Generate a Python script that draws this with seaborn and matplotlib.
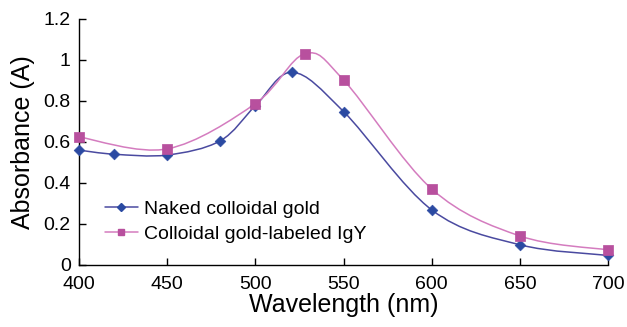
import numpy as np
import pandas as pd
import matplotlib
matplotlib.use('Agg')
import matplotlib.pyplot as plt
from matplotlib.path import Path
from matplotlib.patches import PathPatch
from matplotlib.lines import Line2D
import seaborn as sns

# Spectra
naked_nm = [400, 420, 450, 480, 500, 521, 550, 600, 650, 700]
naked_abs = [0.56, 0.54, 0.536, 0.605, 0.776, 0.94, 0.748, 0.268, 0.098, 0.046]
igy_nm = [400, 450, 500, 528, 550, 600, 650, 700]
igy_abs = [0.624, 0.566, 0.787, 1.03, 0.902, 0.37, 0.141, 0.073]

naked_color = '#2b4aa2'
naked_line = '#4a4aa0'
igy_color = '#b8509e'
igy_line = '#d47cbf'

sns.set_style('white', {'xtick.bottom': True, 'ytick.left': True,
                        'text.color': 'black', 'axes.labelcolor': 'black',
                        'xtick.color': 'black', 'ytick.color': 'black'})
plt.rcParams['font.family'] = ['Liberation Sans', 'DejaVu Sans']


def smooth_path(x, y):
    # Excel style smoothed line: cubic Bezier segments through the points
    x = np.asarray(x, float)
    y = np.asarray(y, float)
    verts = [(x[0], y[0])]
    codes = [Path.MOVETO]
    n = len(x)
    for i in range(n - 1):
        p0 = np.array([x[max(i - 1, 0)], y[max(i - 1, 0)]])
        p1 = np.array([x[i], y[i]])
        p2 = np.array([x[i + 1], y[i + 1]])
        p3 = np.array([x[min(i + 2, n - 1)], y[min(i + 2, n - 1)]])
        c1 = p1 + (p2 - p0) / 6
        c2 = p2 - (p3 - p1) / 6
        verts += [tuple(c1), tuple(c2), tuple(p2)]
        codes += [Path.CURVE4] * 3
    return Path(verts, codes)


fig, ax = plt.subplots(figsize=(6.27, 3.27), dpi=100)
fig.subplots_adjust(left=0.126, right=0.970, bottom=0.19, top=0.942)

ax.add_patch(PathPatch(smooth_path(naked_nm, naked_abs), fill=False,
                       edgecolor=naked_line, lw=1.1))
ax.add_patch(PathPatch(smooth_path(igy_nm, igy_abs), fill=False,
                       edgecolor=igy_line, lw=1.1))

naked = pd.DataFrame({'nm': naked_nm, 'abs': naked_abs})
igy = pd.DataFrame({'nm': igy_nm, 'abs': igy_abs})
sns.scatterplot(data=naked, x='nm', y='abs', marker='D', s=30,
                color=naked_color, edgecolor=naked_color, ax=ax, zorder=3,
                clip_on=False)
sns.scatterplot(data=igy, x='nm', y='abs', marker='s', s=42,
                color=igy_color, edgecolor=igy_color, ax=ax, zorder=3,
                clip_on=False)

ax.set_xlim(400, 700)
ax.set_ylim(0, 1.2)
ax.set_xticks(np.arange(400, 701, 50))
ax.set_yticks(np.arange(0, 1.21, 0.2))
ax.yaxis.set_major_formatter(plt.FuncFormatter(lambda v, p: '%g' % round(v, 1)))
ax.tick_params(direction='in', length=5, width=1, colors='black',
               labelsize=14)
ax.tick_params(axis='x', pad=8)
ax.tick_params(axis='y', pad=6)
for s in ['top', 'right']:
    ax.spines[s].set_visible(False)
for s in ['left', 'bottom']:
    ax.spines[s].set_color('black')
    ax.spines[s].set_linewidth(1)

ax.set_xlabel('Wavelength (nm)', fontsize=18, labelpad=0)
ax.set_ylabel('Absorbance (A)', fontsize=18, labelpad=6)

handles = [
    Line2D([], [], color=naked_line, lw=1.1, marker='D', ms=4,
           markerfacecolor=naked_color, markeredgecolor=naked_color),
    Line2D([], [], color=igy_line, lw=1.1, marker='s', ms=4.5,
           markerfacecolor=igy_color, markeredgecolor=igy_color),
]
ax.legend(handles, ['Naked colloidal gold', 'Colloidal gold-labeled IgY'],
          loc='center left', bbox_to_anchor=(0.049, 0.176), frameon=False,
          borderpad=0, borderaxespad=0,
          fontsize=14, handlelength=1.7, handletextpad=0.3, labelspacing=0.4)

fig.savefig('out.png', dpi=100)
